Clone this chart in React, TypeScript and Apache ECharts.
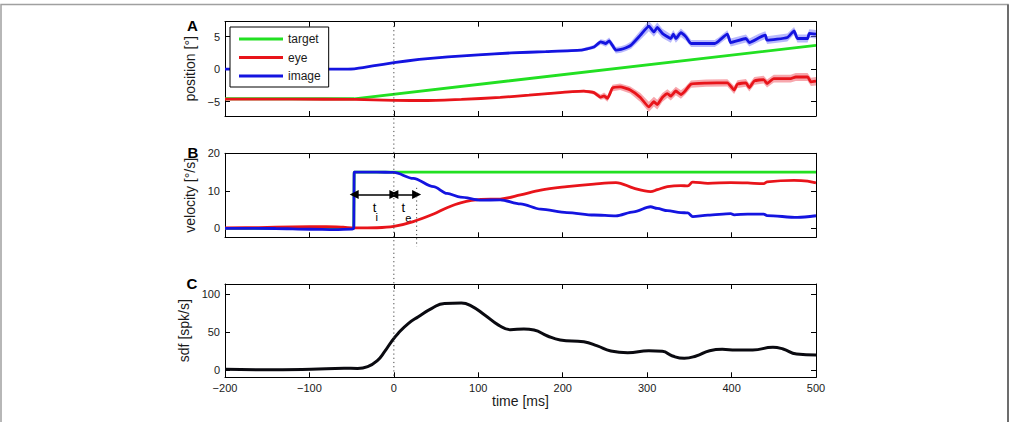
import React, { useEffect, useRef } from "react";
import * as echarts from "echarts";

// ---- tick values ----
const timeTicks = [-200, -100, 0, 100, 200, 300, 400, 500];
const positionTicks = [-5, 0, 5];
const velocityTicks = [0, 10, 20];
const sdfTicks = [0, 50, 100];

// ---- A: position [deg] ----
const targetPosTime = [-200, -47, 500];
const targetPos = [-4.55, -4.55, 3.65];

const eyePosTime = [-200, -120, -47, 0, 40, 80, 126, 160, 197, 225, 237, 245, 249, 253, 259, 268, 280, 292, 302, 308, 312, 318, 324, 328, 334, 340, 345, 352, 370, 395, 403, 407, 417, 421, 427, 438, 442, 450, 470, 476, 490, 494, 500];
const eyePos = [-4.62, -4.62, -4.63, -4.8, -4.82, -4.65, -4.35, -4.0, -3.6, -3.38, -3.6, -4.3, -4.1, -4.5, -2.9, -2.72, -3.2, -4.35, -5.8, -5.0, -5.45, -4.35, -3.75, -4.15, -3.35, -3.9, -3.35, -2.3, -2.15, -2.1, -3.2, -2.3, -2.1, -2.85, -1.8, -1.6, -2.2, -1.45, -1.45, -1.2, -1.2, -1.95, -1.85];
const eyePosSem = [0.06, 0.06, 0.06, 0.06, 0.07, 0.08, 0.1, 0.12, 0.15, 0.2, 0.3, 0.4, 0.5, 0.5, 0.5, 0.5, 0.55, 0.7, 0.8, 0.75, 0.75, 0.7, 0.65, 0.65, 0.65, 0.65, 0.6, 0.55, 0.55, 0.55, 0.6, 0.6, 0.6, 0.6, 0.6, 0.6, 0.6, 0.6, 0.6, 0.6, 0.6, 0.65, 0.65];

const imagePosTime = [-200, -100, -60, -47, -25, 0, 30, 64, 100, 139, 180, 221, 237, 245, 251, 255, 263, 269, 275, 281, 292, 302, 308, 312, 318, 328, 331, 334, 340, 346, 352, 380, 385, 395, 399, 417, 421, 433, 440, 442, 466, 474, 478, 490, 492, 500];
const imagePos = [0, 0, 0.02, 0.05, 0.5, 1.0, 1.5, 1.9, 2.2, 2.5, 2.7, 2.92, 3.4, 4.2, 3.95, 4.36, 2.92, 3.03, 3.3, 3.7, 5.23, 6.62, 5.74, 6.41, 5.5, 4.72, 5.38, 4.72, 5.6, 4.97, 3.95, 3.95, 4.36, 5.38, 4.1, 4.72, 4.1, 4.87, 5.23, 4.46, 4.87, 5.9, 4.72, 4.72, 5.49, 5.38];
const imagePosSem = [0.05, 0.05, 0.05, 0.05, 0.06, 0.07, 0.08, 0.1, 0.12, 0.15, 0.18, 0.2, 0.3, 0.4, 0.5, 0.5, 0.5, 0.5, 0.5, 0.55, 0.7, 0.8, 0.75, 0.75, 0.7, 0.65, 0.65, 0.65, 0.65, 0.6, 0.55, 0.55, 0.55, 0.6, 0.6, 0.6, 0.6, 0.6, 0.6, 0.6, 0.6, 0.6, 0.6, 0.6, 0.65, 0.65];

// ---- B: velocity [deg/s] ----
const targetVelTime = [-200, -47.5, -47, 500];
const targetVel = [0, 0, 15, 15];

const eyeVelTime = [-200, -160, -120, -80, -60, -47, -20, 0, 23, 47, 63, 79, 103, 126, 150, 174, 205, 237, 263, 284, 304, 312, 324, 340, 348, 354, 372, 399, 419, 438, 442, 474, 490, 500];
const eyeVel = [0.1, 0.2, 0.4, 0.45, 0.3, 0.1, 0.15, 0.5, 1.8, 3.8, 5.5, 6.8, 7.7, 7.8, 8.9, 10.2, 11.1, 11.8, 12.2, 10.7, 9.8, 10.3, 11.1, 11.4, 11.3, 12.3, 12.0, 12.2, 12.1, 11.9, 12.4, 12.8, 12.6, 12.1];

const imageVelTime = [-200, -140, -100, -70, -50, -47.5, -47, -45, -20, 0, 23, 47, 63, 79, 103, 126, 150, 174, 205, 237, 263, 284, 304, 312, 324, 340, 348, 354, 372, 399, 403, 419, 438, 442, 478, 500];
const imageVel = [0, -0.05, -0.25, -0.35, -0.2, -0.1, 15, 15, 15, 14.9, 13.3, 11.1, 9.3, 8.3, 7.5, 7.6, 6.5, 5.1, 4.2, 3.55, 3.3, 4.4, 5.75, 5.3, 4.7, 4.2, 4.1, 3.1, 3.5, 3.9, 3.6, 3.8, 3.8, 3.4, 2.9, 3.35];

// ---- C: spike density [spk/s] ----
const sdfTime = [-200, -156, -98, -59, -43, -31, -19, -11, -3, 5, 17, 29, 45, 60, 80, 92, 108, 124, 138, 154, 166, 182, 197, 225, 241, 257, 277, 302, 318, 330, 344, 358, 374, 389, 405, 425, 449, 461, 477, 500];
const sdf = [1, 0.3, 1, 2.3, 2.0, 4.4, 13, 24, 37, 48, 61, 70, 81, 87.5, 88, 84, 72, 59, 53, 54, 52.6, 44.7, 39.5, 37, 31.6, 25, 22.8, 25.4, 24.5, 18.4, 15.4, 18.4, 25.4, 27.2, 26.3, 26.3, 29.8, 27.5, 21, 19.7];

// ---- event times [ms] ----
const targetOnset = -47;
const referenceTime = 0;
const eyeOnset = 27;
const arrowLevel = 9;

const FONT = '"Liberation Sans", Arial, Helvetica, sans-serif';
const INK = "#1a1a1a";
const GREEN = "#22e022";
const RED = "#e8141a";
const BLUE = "#1414e0";
const RED_BAND = "rgba(240, 95, 105, 0.55)";
const BLUE_BAND = "rgba(115, 115, 250, 0.5)";

const GRID_LEFT = 225;
const GRID_WIDTH = 591;
const panels = [
  { top: 21.7, height: 94.3, min: -7.2, max: 7.3, ticks: positionTicks, name: "position [°]" },
  { top: 153.3, height: 84, min: -2.4, max: 20, ticks: velocityTicks, name: "velocity [°/s]" },
  { top: 284, height: 93.3, min: -9.6, max: 113, ticks: sdfTicks, name: "sdf [spk/s]" },
];

const minus = (v: number) => String(v).replace("-", "\u2212");
const pairs = (t: number[], v: number[]) => t.map((x, i) => [x, v[i]]);

function xAxesFor(i: number, last: boolean) {
  const common = {
    type: "value",
    gridIndex: i,
    min: timeTicks[0],
    max: timeTicks[timeTicks.length - 1],
    interval: 100,
    splitLine: { show: false },
    axisLine: { show: true, onZero: false, lineStyle: { color: "#000", width: 1 } },
    axisTick: { show: true, inside: true, length: 5, lineStyle: { color: "#000", width: 1 } },
  };
  return [
    {
      ...common,
      position: "bottom",
      axisLabel: {
        show: last,
        formatter: minus,
        margin: 5,
        fontSize: 11,
        color: INK,
        fontFamily: FONT,
      },
      name: last ? "time [ms]" : "",
      nameLocation: "middle",
      nameGap: 17,
      nameTextStyle: { fontSize: 14, color: INK, fontFamily: FONT },
    },
    { ...common, position: "top", axisLabel: { show: false } },
  ];
}

function yAxesFor(i: number) {
  const p = panels[i];
  const common = {
    type: "value",
    gridIndex: i,
    min: p.min,
    max: p.max,
    splitLine: { show: false },
    axisLine: { show: true, onZero: false, lineStyle: { color: "#000", width: 1 } },
    axisTick: { show: true, inside: true, length: 5, customValues: p.ticks, lineStyle: { color: "#000", width: 1 } },
  };
  return [
    {
      ...common,
      position: "left",
      axisLabel: {
        show: true,
        customValues: p.ticks,
        formatter: minus,
        margin: 5,
        fontSize: 11,
        color: INK,
        fontFamily: FONT,
      },
      name: p.name,
      nameLocation: "middle",
      nameRotate: 90,
      nameGap: 24,
      nameTextStyle: { fontSize: 14, color: INK, fontFamily: FONT },
    },
    { ...common, position: "right", axisLabel: { show: false } },
  ];
}

function line(name: string, panel: number, t: number[], v: number[], color: string, smooth: number | boolean, width = 2.8, monotone = false) {
  return {
    type: "line",
    name,
    xAxisIndex: panel * 2,
    yAxisIndex: panel * 2,
    data: pairs(t, v),
    symbol: "none",
    smooth,
    smoothMonotone: monotone ? "x" : undefined,
    lineStyle: { color, width },
    itemStyle: { color },
    emphasis: { disabled: true },
  };
}

// Shaded error band (mean ± sem) drawn as one polygon in data space
function band(panel: number, t: number[], v: number[], sem: number[], color: string) {
  const upper = t.map((x, i) => [x, v[i] + sem[i]]);
  const lower = t.map((x, i) => [x, v[i] - sem[i]]).reverse();
  return {
    type: "custom",
    xAxisIndex: panel * 2,
    yAxisIndex: panel * 2,
    silent: true,
    clip: true,
    data: [[t[0], v[0]]],
    renderItem: (_params: any, api: any) => ({
      type: "polygon",
      shape: { points: [...upper, ...lower].map((p) => api.coord(p)) },
      style: { fill: color },
    }),
  };
}

function buildOption() {
  return {
    animation: false,
    backgroundColor: "#fff",
    textStyle: { fontFamily: FONT, color: INK },
    grid: panels.map((p) => ({
      left: GRID_LEFT,
      width: GRID_WIDTH,
      top: p.top,
      height: p.height,
      outerBoundsMode: "none",
    })),
    xAxis: [...xAxesFor(0, false), ...xAxesFor(1, false), ...xAxesFor(2, true)],
    yAxis: [...yAxesFor(0), ...yAxesFor(1), ...yAxesFor(2)],
    legend: {
      data: ["target", "eye", "image"],
      icon: "rect",
      orient: "vertical",
      left: 230,
      top: 27,
      padding: [6, 8, 5, 9],
      itemWidth: 44,
      itemHeight: 3,
      itemGap: 6.5,
      selectedMode: false,
      backgroundColor: "#fff",
      borderColor: "#000",
      borderWidth: 1,
      borderRadius: 0,
      textStyle: { fontSize: 12, color: INK, fontFamily: FONT },
    },
    series: [
      // A: position
      band(0, eyePosTime, eyePos, eyePosSem, RED_BAND),
      band(0, imagePosTime, imagePos, imagePosSem, BLUE_BAND),
      line("target", 0, targetPosTime, targetPos, GREEN, false),
      line("eye", 0, eyePosTime, eyePos, RED, 0.15),
      line("image", 0, imagePosTime, imagePos, BLUE, 0.15),
      // B: velocity
      line("target", 1, targetVelTime, targetVel, GREEN, false),
      line("eye", 1, eyeVelTime, eyeVel, RED, 0.35),
      line("image", 1, imageVelTime, imageVel, BLUE, 0.3, 2.8, true),
      {
        type: "lines",
        coordinateSystem: "cartesian2d",
        xAxisIndex: 2,
        yAxisIndex: 2,
        symbol: ["triangle", "triangle"],
        symbolSize: 9,
        silent: true,
        lineStyle: { color: "#000", width: 1.5, opacity: 1, curveness: 0 },
        data: [
          { coords: [[targetOnset, arrowLevel], [referenceTime, arrowLevel]] },
          { coords: [[referenceTime, arrowLevel], [eyeOnset, arrowLevel]] },
        ],
        z: 5,
      },
      // C: spike density
      line("sdf", 2, sdfTime, sdf, "#0a0a10", 0.5, 3),
    ],
  };
}

function buildGraphics(chart: echarts.ECharts) {
  const px = (panel: number, x: number, y: number) =>
    chart.convertToPixel({ xAxisIndex: panel * 2, yAxisIndex: panel * 2 }, [x, y]) as number[];
  const [x0] = px(0, referenceTime, 0);
  const topA = panels[0].top;
  const bottomC = panels[2].top + panels[2].height;
  const bottomB = panels[1].top + panels[1].height;
  const [xe, ye] = px(1, eyeOnset, 10.8);
  const [tix, tiy] = px(1, -23, 5.5);
  const [six, siy] = px(1, -20.3, 3.0);
  const [tex, tey] = px(1, 11.2, 5.5);
  const [sex, sey] = px(1, 17, 2.75);

  const label = (text: string, x: number, y: number, size: number, weight = "normal") => ({
    type: "text",
    x,
    y,
    silent: true,
    style: {
      text,
      fill: "#000",
      font: `${weight} ${size}px ${FONT}`,
      align: "center",
      verticalAlign: "middle",
    },
  });

  return [
    {
      type: "rect",
      silent: true,
      shape: { x: 1, y: 4.5, width: 1007, height: 440 },
      style: { fill: "none", stroke: "#a0a0a0", lineWidth: 1.5 },
      z: 0,
    },
    {
      type: "line",
      silent: true,
      shape: { x1: 1008, y1: 4.5, x2: 1008, y2: 422 },
      style: { stroke: "#555", lineWidth: 1.5 },
    },
    {
      type: "line",
      silent: true,
      shape: { x1: x0, y1: topA, x2: x0, y2: bottomC },
      style: { stroke: "#444", lineWidth: 1, lineDash: [1.2, 3] },
      z: 10,
    },
    {
      type: "line",
      silent: true,
      shape: { x1: xe, y1: ye, x2: xe, y2: bottomB + 9.5 },
      style: { stroke: "#444", lineWidth: 1, lineDash: [1.2, 3] },
      z: 10,
    },
    label("A", 192.5, 25, 15, "bold"),
    label("B", 193, 152, 15, "bold"),
    label("C", 192, 283, 15, "bold"),
    label("t", tix, tiy, 13),
    label("i", six, siy, 11),
    label("t", tex, tey, 13),
    label("e", sex, sey, 11),
  ];
}

export default function App() {
  const ref = useRef<HTMLDivElement>(null);
  useEffect(() => {
    if (!ref.current) return;
    const chart = echarts.init(ref.current, null, { renderer: "svg" });
    chart.setOption(buildOption() as any);
    chart.setOption({ graphic: buildGraphics(chart) } as any);
    return () => chart.dispose();
  }, []);
  return (
    <div
      ref={ref}
      style={{ position: "absolute", left: 0, top: 0, width: 1013, height: 422, background: "#fff" }}
    />
  );
}
